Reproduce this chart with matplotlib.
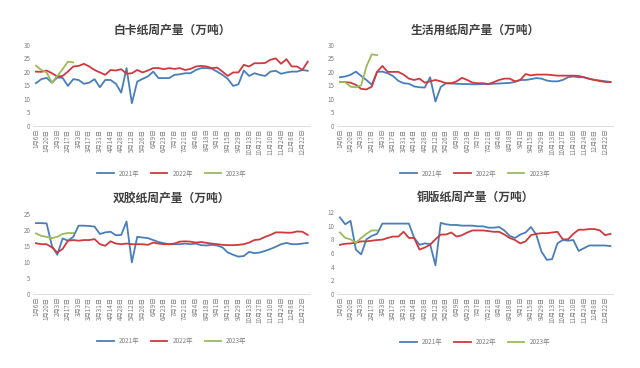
import matplotlib
matplotlib.use('Agg')
import matplotlib.pyplot as plt
import numpy as np

plt.rcParams['font.family'] = ['Noto Sans CJK SC', 'DejaVu Sans']

# 每两周一个刻度标签
tick_labels = ['1月6日', '1月20日', '2月3日', '2月17日', '3月3日', '3月17日', '3月31日',
               '4月14日', '4月28日', '5月12日', '5月26日', '6月9日', '6月23日', '7月7日',
               '7月21日', '8月4日', '8月18日', '9月1日', '9月15日', '9月29日', '10月13日',
               '10月27日', '11月10日', '11月24日', '12月8日', '12月22日']
n_weeks = 52

# 白卡纸
bk_2021 = [15.8, 17.3, 17.8, 16.0, 17.9, 17.8, 14.8, 17.3, 17.0, 15.6, 16.0, 17.3, 14.3,
           17.0, 17.0, 15.6, 12.3, 21.4, 8.4, 16.4, 17.4, 18.3, 20.1, 17.7, 17.7, 17.7,
           18.9, 19.1, 19.5, 19.5, 20.7, 21.4, 21.4, 21.2, 20.1, 18.9, 17.4, 14.8, 15.4,
           20.5, 18.5, 19.5, 18.9, 18.5, 20.1, 20.4, 19.3, 19.8, 20.1, 20.1, 20.7, 20.4]
bk_2022 = [20.1, 20.0, 20.5, 19.5, 18.3, 18.5, 20.1, 22.0, 22.2, 23.0, 22.0, 20.7, 19.8,
           18.9, 20.7, 20.5, 21.0, 19.3, 19.5, 20.7, 19.8, 20.5, 21.4, 21.4, 21.0, 21.4,
           21.1, 21.4, 20.7, 21.1, 22.0, 22.2, 22.0, 21.4, 21.6, 20.1, 18.5, 19.8, 19.8,
           22.6, 22.0, 23.2, 23.2, 23.3, 24.5, 25.0, 23.0, 24.7, 22.0, 22.0, 20.7, 23.8]
bk_2023 = [22.3, 20.7, 19.8, 16.0, 18.5, 21.0, 23.8, 23.5]

# 生活用纸
sh_2021 = [18.0, 18.3, 18.9, 20.1, 18.5, 17.0, 15.2, 20.0, 20.1, 19.5, 18.5, 16.7, 15.8,
           15.6, 14.6, 14.3, 14.2, 18.0, 9.0, 14.4, 15.8, 15.7, 15.6, 15.5, 15.5, 15.4,
           15.4, 15.5, 15.5, 15.6, 15.7, 15.8, 15.9, 16.3, 17.0, 17.0, 17.3, 17.7, 17.5,
           16.8, 16.5, 16.5, 17.0, 18.0, 18.3, 18.0, 18.0, 17.5, 17.0, 16.8, 16.5, 16.3]
sh_2022 = [16.3, 16.2, 16.0, 15.2, 13.7, 13.5, 14.5, 20.0, 22.2, 20.0, 20.0, 20.0, 19.0,
           17.5, 17.0, 17.5, 16.0, 16.5, 17.0, 16.5, 15.8, 15.8, 16.5, 17.8, 17.0, 16.0,
           15.8, 15.8, 15.5, 16.2, 17.0, 17.5, 17.5, 16.5, 17.0, 19.2, 18.7, 19.0, 19.0,
           19.0, 18.8, 18.6, 18.6, 18.6, 18.6, 18.5, 18.0, 17.4, 17.0, 16.6, 16.3, 16.2]
sh_2023 = [16.3, 16.2, 14.5, 14.3, 15.0, 22.0, 26.5, 26.2]

# 双胶纸
sj_2021 = [22.2, 22.2, 22.1, 15.1, 12.3, 17.4, 16.7, 17.9, 21.4, 21.4, 21.3, 21.1, 18.8,
           19.3, 19.5, 18.4, 18.5, 22.7, 9.9, 17.9, 17.7, 17.5, 16.9, 16.3, 15.9, 15.6,
           15.6, 15.6, 15.8, 15.6, 15.8, 15.3, 15.2, 15.4, 15.2, 14.6, 13.0, 12.3, 11.7,
           11.9, 13.2, 12.8, 13.0, 13.5, 14.1, 14.8, 15.6, 16.0, 15.6, 15.6, 15.8, 16.0]
sj_2022 = [15.9, 15.6, 15.6, 14.6, 13.0, 14.1, 16.7, 16.9, 16.7, 16.9, 16.9, 17.2, 15.6,
           15.1, 16.5, 15.8, 15.6, 15.8, 15.6, 15.6, 15.6, 15.4, 16.1, 15.8, 15.6, 15.6,
           15.8, 16.4, 16.5, 16.4, 16.1, 16.3, 16.0, 15.8, 15.6, 15.4, 15.3, 15.3, 15.4,
           15.6, 16.1, 16.9, 17.1, 17.9, 18.5, 19.3, 19.3, 19.2, 19.2, 19.6, 19.5, 18.5]
sj_2023 = [19.0, 18.2, 17.9, 17.5, 17.9, 18.8, 19.1, 19.1]

# 铜版纸
tb_2021 = [11.2, 10.2, 10.7, 6.5, 5.8, 8.0, 8.5, 8.8, 10.3, 10.3, 10.3, 10.3, 10.3,
           10.3, 8.2, 7.2, 7.4, 7.3, 4.2, 10.4, 10.2, 10.1, 10.1, 10.0, 10.0, 10.0,
           9.9, 9.9, 9.7, 9.7, 9.8, 9.3, 8.5, 8.2, 8.7, 9.0, 9.8, 8.7, 6.2,
           5.0, 5.1, 7.4, 7.9, 7.8, 7.9, 6.3, 6.7, 7.1, 7.1, 7.1, 7.1, 7.0]
tb_2022 = [7.2, 7.35, 7.4, 7.5, 7.7, 7.7, 7.8, 7.9, 7.95, 8.2, 8.4, 8.4, 9.1,
           8.2, 8.2, 6.5, 6.8, 7.2, 8.0, 8.7, 8.7, 9.0, 8.4, 8.6, 9.0, 9.3,
           9.3, 9.3, 9.2, 9.1, 9.1, 8.7, 8.2, 7.9, 7.4, 7.7, 8.6, 8.8, 8.9,
           8.9, 9.0, 9.1, 8.0, 8.0, 8.8, 9.4, 9.4, 9.5, 9.5, 9.3, 8.6, 8.8]
tb_2023 = [9.0, 8.2, 8.0, 7.5, 8.2, 8.8, 9.3, 9.3]

years = ['2021年', '2022年', '2023年']
colors = ['#4A7EBB', '#D0393E', '#9BBB59']

panels = [
	('白卡纸周产量（万吨）', [bk_2021, bk_2022, bk_2023], 30, 5, [0.052, 0.658, 0.433, 0.22]),
	('生活用纸周产量（万吨）', [sh_2021, sh_2022, sh_2023], 30, 5, [0.527, 0.658, 0.431, 0.22]),
	('双胶纸周产量（万吨）', [sj_2021, sj_2022, sj_2023], 25, 5, [0.052, 0.201, 0.433, 0.217]),
	('铜版纸周产量（万吨）', [tb_2021, tb_2022, tb_2023], 12, 2, [0.527, 0.201, 0.431, 0.223]),
]

fig = plt.figure(figsize=(6.4, 3.68), dpi=100)

for title, series, ymax, ystep, pos in panels:
	ax = fig.add_axes(pos)
	for vals, c, lab in zip(series, colors, years):
		ax.plot(np.arange(len(vals)), vals, color=c, linewidth=1.3, label=lab)
	ax.set_xlim(-0.5, n_weeks - 0.5)
	ax.set_ylim(0, ymax)
	ax.set_yticks(np.arange(0, ymax + 0.1, ystep))
	ax.set_xticks(np.arange(0, n_weeks, 2))
	ax.set_xticklabels(tick_labels, rotation=90)
	ax.tick_params(axis='both', length=0, labelsize=4.5, colors='#7F7F7F', pad=2)
	for s in ['top', 'right', 'left']:
		ax.spines[s].set_visible(False)
	ax.spines['bottom'].set_color('#D9D9D9')
	ax.spines['bottom'].set_linewidth(0.6)
	ax.set_title(title, fontsize=8.5, fontweight='bold', color='#404040', pad=8)
	ax.legend(loc='upper center', bbox_to_anchor=(0.5, -0.47), ncol=3, frameon=False,
			  fontsize=4.6, handlelength=2.6, columnspacing=1.8, labelcolor='#7F7F7F')

fig.savefig('out.png', dpi=100)
